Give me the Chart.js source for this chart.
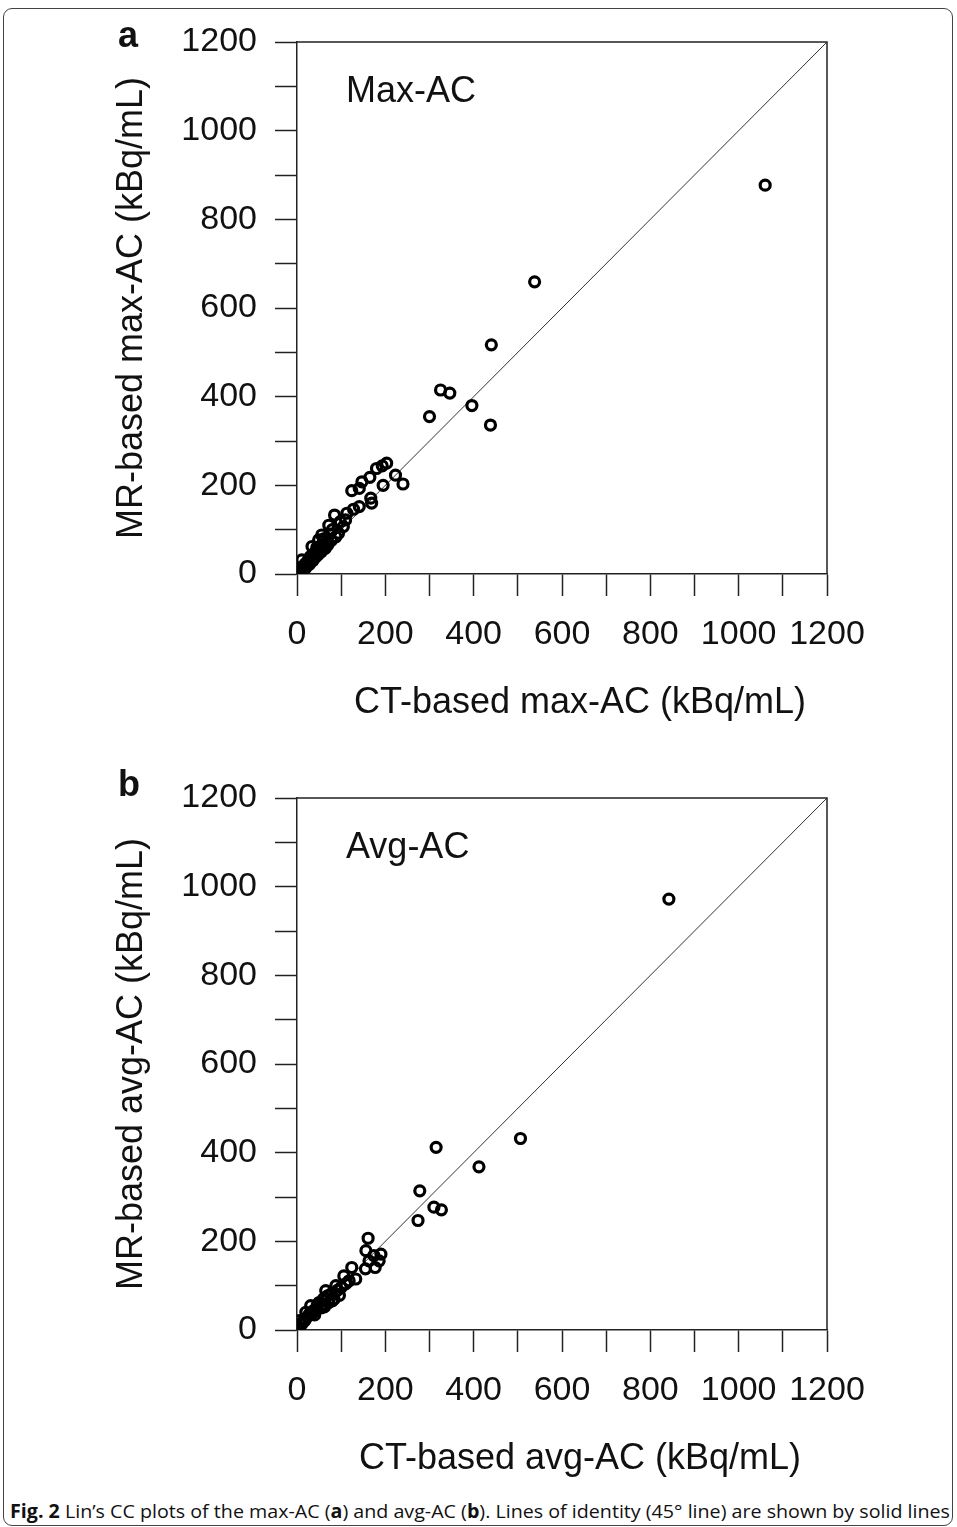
<!DOCTYPE html>
<html>
<head>
<meta charset="utf-8">
<script src="https://cdn.jsdelivr.net/npm/chart.js@4.4.1/dist/chart.umd.min.js"></script>
<style>
  html, body { margin: 0; padding: 0; background: #fff; }
  body { width: 957px; height: 1527px; position: relative; overflow: hidden; }
  .frame { position: absolute; left: 3px; top: 8px; width: 950px; height: 1518px; border: 1.5px solid #444; border-radius: 9px; box-sizing: border-box; }
  .panel { position: absolute; left: 0; width: 957px; height: 740px; }
  #caption { position: absolute; left: 10px; top: 1498px; font-family: "Open Sans", sans-serif; font-size: 19px; white-space: nowrap; transform-origin: 0 0; color: #111; }
</style>
</head>
<body>
<div class="frame"></div>
<div class="panel" style="top:0"><canvas id="chartA" width="957" height="740"></canvas></div>
<div class="panel" style="top:756px"><canvas id="chartB" width="957" height="740"></canvas></div>
<div id="caption"><b>Fig. 2</b> Lin’s CC plots of the max-AC (<b>a</b>) and avg-AC (<b>b</b>). Lines of identity (45° line) are shown by solid lines</div>
<script>
// panel a: max-AC (CT-based vs MR-based), kBq/mL
const maxCT = [1060, 538, 440, 325, 346, 396, 300, 438, 203, 193, 180, 223, 240, 195, 165, 147, 124, 141, 167, 169,
  141, 128, 113, 85, 98, 72, 105, 94, 110, 56, 49, 62, 75, 80, 66, 58, 52, 44, 38, 34,
  30, 26, 22, 18, 14, 11, 10, 6, 3, 0, 0, 20, 28, 36, 42, 48, 55, 64, 70, 78, 88, 60, 45];
const maxMR = [877, 659, 517, 415, 408, 380, 355, 336, 250, 244, 238, 223, 203, 200, 218, 208, 188, 193, 171, 160,
  152, 146, 137, 133, 118, 110, 107, 92, 122, 88, 77, 80, 90, 100, 70, 65, 58, 52, 46, 62,
  39, 32, 26, 22, 16, 32, 12, 6, 3, 9, 1, 14, 22, 30, 38, 44, 50, 58, 66, 76, 84, 75, 60];

// panel b: avg-AC
const avgCT = [842, 506, 315, 412, 278, 310, 327, 274, 161, 156, 190, 174, 163, 186, 155, 177, 124, 133, 106, 118,
  88, 65, 69, 84, 78, 92, 100, 96, 72, 60, 50, 55, 44, 38, 31, 28, 24, 20, 18, 14,
  10, 8, 5, 4, 0, 1, 35, 40, 46, 58, 62, 80, 110];
const avgMR = [972, 432, 412, 368, 314, 277, 271, 247, 207, 179, 171, 168, 156, 156, 138, 141, 141, 115, 122, 111,
  100, 89, 77, 70, 82, 90, 96, 78, 62, 70, 62, 50, 48, 44, 55, 36, 30, 40, 22, 18,
  12, 14, 21, 6, 10, 2, 38, 34, 56, 58, 52, 66, 104];

const identityLine = [0, 1200];
const axisMin = 0;
const axisMax = 1200;
const tickStep = 100;
const labelStep = 200;

const FONT = "'Liberation Sans', Arial, sans-serif";

// top/right sides of the frame plus the panel letter and in-plot label
const panelText = {
  id: "panelText",
  afterDatasetsDraw(chart, args, opts) {
    const { ctx, chartArea } = chart;
    ctx.save();
    ctx.strokeStyle = "#222";
    ctx.lineWidth = 1.5;
    ctx.beginPath();
    ctx.moveTo(chartArea.left, chartArea.top);
    ctx.lineTo(chartArea.right, chartArea.top);
    ctx.lineTo(chartArea.right, chartArea.bottom);
    ctx.stroke();
    ctx.fillStyle = "#111";
    ctx.textBaseline = "alphabetic";
    ctx.font = "bold 36px " + FONT;
    ctx.fillText(opts.letter, 118, opts.letterY);
    ctx.font = "36px " + FONT;
    ctx.fillText(opts.label, chartArea.left + 49, chartArea.top + 60);
    ctx.restore();
  }
};

function makePanel(id, xs, ys, letter, label, xTitle, yTitle, letterY) {
  const points = xs.map((x, i) => ({ x: x, y: ys[i] }));
  const identity = identityLine.map(v => ({ x: v, y: v }));
  const tickOpts = {
    stepSize: tickStep,
    autoSkip: false,
    maxRotation: 0,
    padding: 18,
    color: "#111",
    font: { family: FONT, size: 34 },
    callback: v => (v % labelStep === 0 ? v : "")
  };
  const gridOpts = { drawOnChartArea: false, drawTicks: true, tickLength: 22, tickColor: "#222", tickWidth: 1.5 };
  const borderOpts = { display: true, color: "#222", width: 1.5 };

  return new Chart(document.getElementById(id), {
    type: "scatter",
    data: {
      datasets: [
        {
          type: "line",
          data: identity,
          borderColor: "#333",
          borderWidth: 1,
          pointRadius: 0,
          fill: false,
          order: 2
        },
        {
          data: points,
          pointStyle: "circle",
          pointRadius: 5,
          borderWidth: 3.2,
          pointBorderWidth: 3.2,
          borderColor: "#000",
          pointBorderColor: "#000",
          backgroundColor: "rgba(0,0,0,0)",
          order: 1
        }
      ]
    },
    options: {
      responsive: false,
      animation: false,
      devicePixelRatio: 1,
      layout: { padding: { left: 0, top: 42, right: 130, bottom: 0 } },
      plugins: {
        legend: { display: false },
        tooltip: { enabled: false },
        panelText: { letter: letter, label: label, letterY: letterY }
      },
      scales: {
        x: {
          type: "linear",
          position: "bottom",
          min: axisMin,
          max: axisMax,
          border: borderOpts,
          grid: gridOpts,
          ticks: tickOpts,
          // leading em space nudges the centred title right, as in the figure
          title: { display: true, text: "\u2003" + xTitle, color: "#111", font: { family: FONT, size: 36 }, padding: { top: 0, bottom: 15 } },
          afterFit: s => { s.height = 166; }
        },
        y: {
          type: "linear",
          position: "left",
          min: axisMin,
          max: axisMax,
          border: borderOpts,
          grid: gridOpts,
          ticks: tickOpts,
          title: { display: true, text: yTitle, color: "#111", font: { family: FONT, size: 36 }, padding: { top: 110, bottom: 0 } },
          afterFit: s => { s.width = 297; }
        }
      }
    },
    plugins: [panelText]
  });
}

makePanel("chartA", maxCT, maxMR, "a", "Max-AC", "CT-based max-AC (kBq/mL)", "MR-based max-AC (kBq/mL)", 47);
makePanel("chartB", avgCT, avgMR, "b", "Avg-AC", "CT-based avg-AC (kBq/mL)", "MR-based avg-AC (kBq/mL)", 40);

// squeeze the caption to the width it has in the figure
const caption = document.getElementById("caption");
const fitCaption = () => {
  const w = caption.getBoundingClientRect().width;
  caption.style.transform = "scaleX(" + (940 / w) + ")";
};
fitCaption();
</script>
</body>
</html>
